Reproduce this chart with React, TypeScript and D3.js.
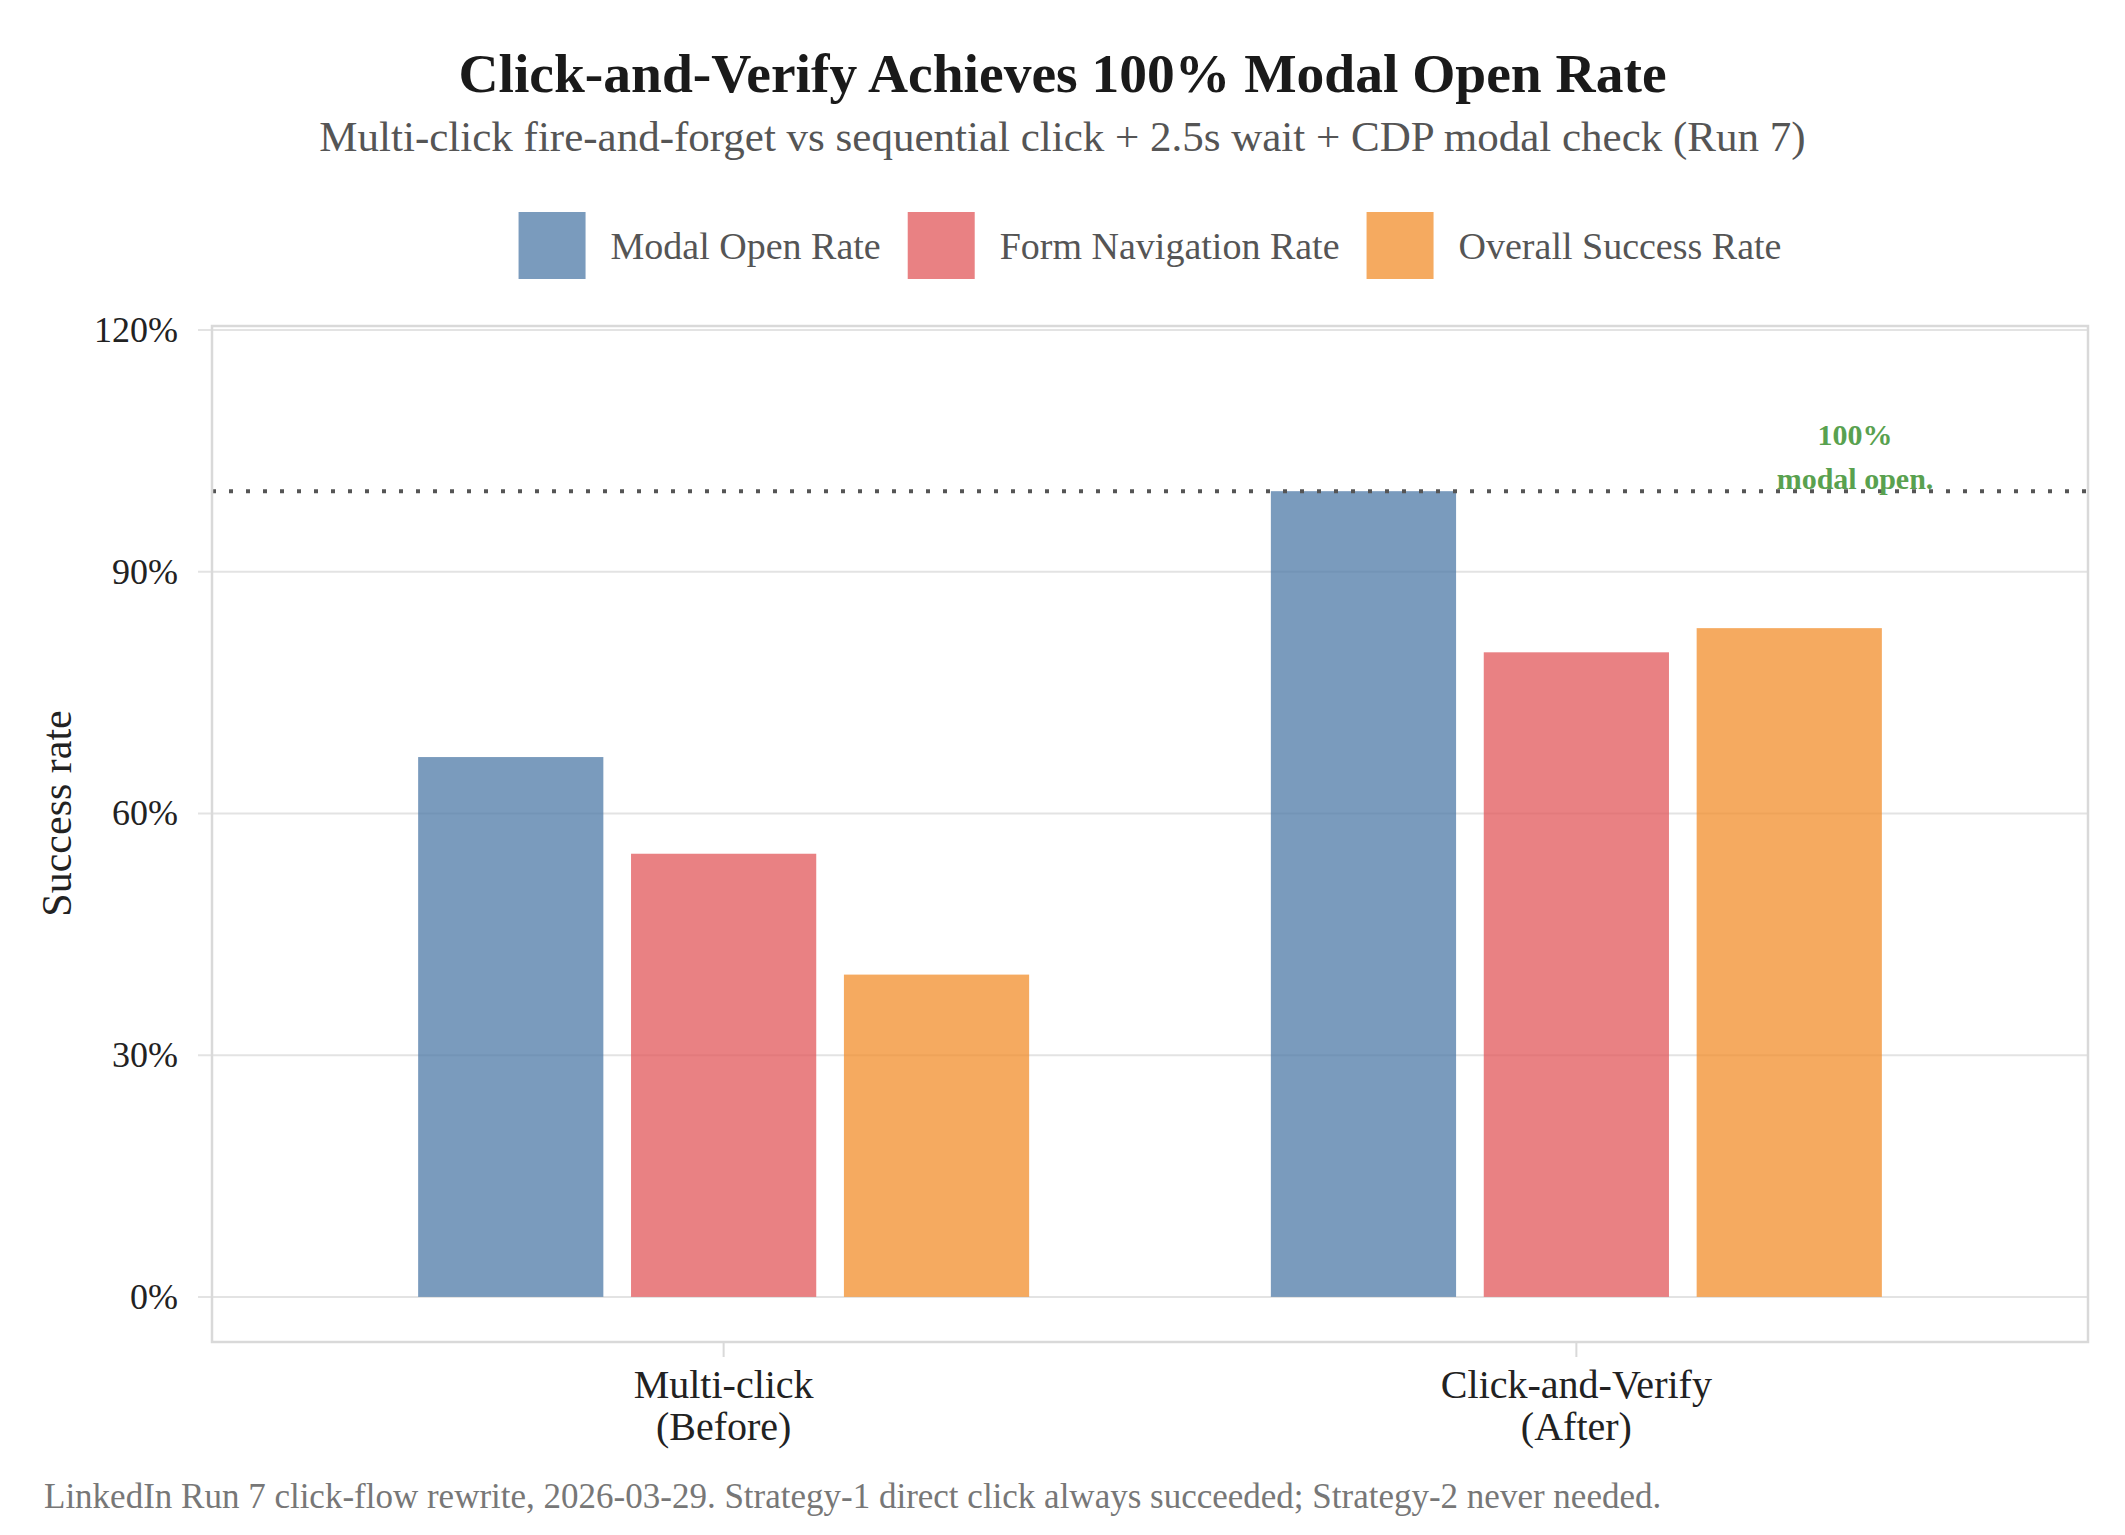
import * as d3 from "d3";
import { useEffect, useRef } from "react";

const categories = ["Multi-click\n(Before)", "Click-and-Verify\n(After)"];
const seriesNames = ["Modal Open Rate", "Form Navigation Rate", "Overall Success Rate"];
const seriesColors = ["#4e79a7", "#e15759", "#f28e2b"];
const modalOpen = [67, 100];
const formNav = [55, 80];
const overall = [40, 83];
const yTicks = [0, 30, 60, 90, 120];
const targetLine = 100;

const FONT = "'Liberation Serif', 'DejaVu Serif', serif";

export default function App() {
  const ref = useRef<SVGSVGElement>(null);

  useEffect(() => {
    if (!ref.current) return;
    const svg = d3.select(ref.current);
    svg.selectAll("*").remove();

    const width = 2125;
    const height = 1535;
    const plot = { left: 212, right: 2088, top: 326, bottom: 1342 };

    svg.append("rect").attr("width", width).attr("height", height).attr("fill", "#fff");

    const values = [modalOpen, formNav, overall];

    // Scales
    const x0 = d3.scalePoint<string>().domain(categories).range([plot.left, plot.right]).padding(0.6);
    const x1 = d3
      .scaleBand<string>()
      .domain(seriesNames)
      .range([-305.5, 305.5])
      .paddingInner(0.13);
    const y = d3.scaleLinear().domain([-5.6, 120.5]).range([plot.bottom, plot.top]);

    // Title block
    svg
      .append("text")
      .attr("x", width / 2)
      .attr("y", 92)
      .attr("text-anchor", "middle")
      .attr("font-family", FONT)
      .attr("font-weight", "bold")
      .attr("font-size", 55.5)
      .attr("fill", "#1a1a1a")
      .text("Click-and-Verify Achieves 100% Modal Open Rate");

    svg
      .append("text")
      .attr("x", width / 2)
      .attr("y", 151)
      .attr("text-anchor", "middle")
      .attr("font-family", FONT)
      .attr("font-size", 43)
      .attr("fill", "#555")
      .text("Multi-click fire-and-forget vs sequential click + 2.5s wait + CDP modal check (Run 7)");

    // Legend, centred over the plot
    const legend = svg.append("g");
    const sq = 67;
    let cx = 0;
    seriesNames.forEach((name, i) => {
      const item = legend.append("g").attr("transform", `translate(${cx},0)`);
      item
        .append("rect")
        .attr("x", 0)
        .attr("y", 0)
        .attr("width", sq)
        .attr("height", sq)
        .attr("fill", seriesColors[i])
        .attr("opacity", 0.75);
      const t = item
        .append("text")
        .attr("x", sq + 25)
        .attr("y", sq / 2)
        .attr("dominant-baseline", "central")
        .attr("font-family", FONT)
        .attr("font-size", 38)
        .attr("fill", "#555")
        .text(name);
      const w = (t.node() as SVGTextElement).getComputedTextLength();
      cx += sq + 25 + w + 27;
    });
    const legendW = cx - 27;
    legend.attr(
      "transform",
      `translate(${(plot.left + plot.right) / 2 - legendW / 2},212)`
    );

    // Grid
    svg
      .append("g")
      .selectAll("line")
      .data(yTicks)
      .join("line")
      .attr("x1", plot.left - 14)
      .attr("x2", plot.right)
      .attr("y1", (d) => y(d))
      .attr("y2", (d) => y(d))
      .attr("stroke", "#e3e3e3")
      .attr("stroke-width", 2);

    // Y tick labels
    svg
      .append("g")
      .selectAll("text")
      .data(yTicks)
      .join("text")
      .attr("x", 178)
      .attr("y", (d) => y(d))
      .attr("text-anchor", "end")
      .attr("dominant-baseline", "central")
      .attr("font-family", FONT)
      .attr("font-size", 36)
      .attr("fill", "#222")
      .text((d) => `${d}%`);

    // Bars
    const groups = svg
      .append("g")
      .selectAll("g")
      .data(categories)
      .join("g")
      .attr("transform", (d) => `translate(${x0(d)},0)`);

    groups
      .selectAll("rect")
      .data((_, ci) => seriesNames.map((s, si) => ({ s, si, v: values[si][ci] })))
      .join("rect")
      .attr("x", (d) => x1(d.s)!)
      .attr("width", x1.bandwidth())
      .attr("y", (d) => y(d.v))
      .attr("height", (d) => y(0) - y(d.v))
      .attr("fill", (d) => seriesColors[d.si])
      .attr("opacity", 0.75);

    // 100% reference line
    svg
      .append("line")
      .attr("x1", plot.left)
      .attr("x2", plot.right)
      .attr("y1", y(targetLine))
      .attr("y2", y(targetLine))
      .attr("stroke", "#555")
      .attr("stroke-width", 4)
      .attr("stroke-dasharray", "4 13");

    const ann = svg
      .append("text")
      .attr("text-anchor", "middle")
      .attr("font-family", FONT)
      .attr("font-weight", "bold")
      .attr("font-size", 30)
      .attr("fill", "#59a14f");
    ann.append("tspan").attr("x", 1855).attr("y", y(targetLine) - 46).text("100%");
    ann.append("tspan").attr("x", 1855).attr("y", y(targetLine) - 2).text("modal open.");

    // Frame
    svg
      .append("rect")
      .attr("x", plot.left)
      .attr("y", plot.top)
      .attr("width", plot.right - plot.left)
      .attr("height", plot.bottom - plot.top)
      .attr("fill", "none")
      .attr("stroke", "#d9d9d9")
      .attr("stroke-width", 2.5);

    // X ticks and labels
    const xt = svg
      .append("g")
      .selectAll("g")
      .data(categories)
      .join("g")
      .attr("transform", (d) => `translate(${x0(d)},${plot.bottom})`);
    xt.append("line").attr("y1", 0).attr("y2", 15).attr("stroke", "#d9d9d9").attr("stroke-width", 2);
    const xl = xt
      .append("text")
      .attr("text-anchor", "middle")
      .attr("font-family", FONT)
      .attr("font-size", 40)
      .attr("fill", "#222");
    xl.selectAll("tspan")
      .data((d) => d.split("\n"))
      .join("tspan")
      .attr("x", 0)
      .attr("y", (_, i) => 56 + i * 42)
      .text((d) => d);

    // Y axis label
    svg
      .append("text")
      .attr("transform", `translate(57,${(y(0) + y(120)) / 2}) rotate(-90)`)
      .attr("text-anchor", "middle")
      .attr("dominant-baseline", "central")
      .attr("font-family", FONT)
      .attr("font-size", 42)
      .attr("fill", "#222")
      .text("Success rate");

    // Footer
    svg
      .append("text")
      .attr("x", 44)
      .attr("y", 1508)
      .attr("font-family", FONT)
      .attr("font-size", 35)
      .attr("fill", "#777")
      .text(
        "LinkedIn Run 7 click-flow rewrite, 2026-03-29. Strategy-1 direct click always succeeded; Strategy-2 never needed."
      );
  }, []);

  return (
    <svg
      ref={ref}
      width={2125}
      height={1535}
      style={{ position: "absolute", left: 0, top: 0, display: "block" }}
    />
  );
}
